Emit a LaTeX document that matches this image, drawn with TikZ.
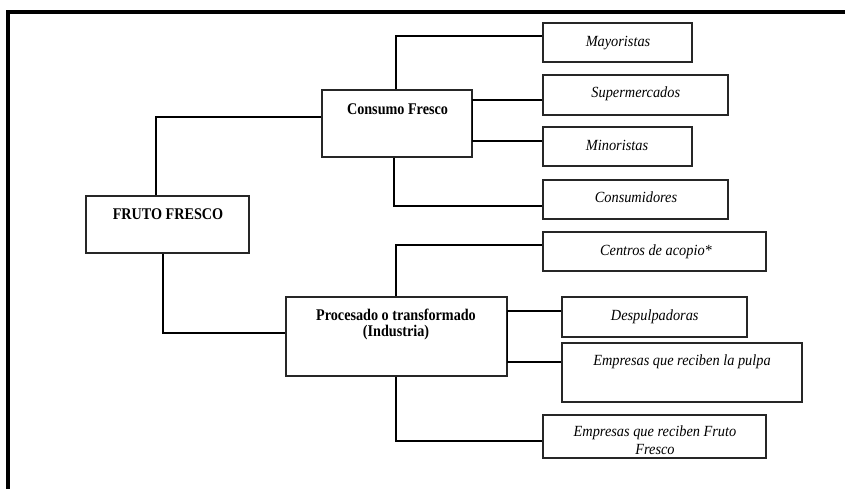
\documentclass[tikz,border=0pt]{standalone}
\usepackage{fontspec}
\setmainfont{Liberation Serif}[FakeStretch=0.925]
\newfontfamily\boldfam{Liberation Serif}[FakeStretch=0.87]
\begin{document}
\begin{tikzpicture}[x=1pt,y=-1pt,
  box/.style={draw=black!85, line width=1.2pt, inner sep=0pt, fill=white},
  conn/.style={draw=black, line width=1.6pt},
  bt/.style={font=\boldfam\fontsize{16.3}{16.7}\selectfont\bfseries, anchor=base, align=center, inner sep=0pt},
  it/.style={font=\fontsize{15.5}{17.6}\selectfont\itshape, anchor=base, align=center, inner sep=0pt}]
\useasboundingbox (0,0) rectangle (845,488);
% frame
\draw[line width=3.2pt] (8,490) -- (8,12) -- (847,12);
% boxes
\node[box, minimum width=163pt, minimum height=57pt] (fruto) at (167.5,224.5) {};
\node[box, minimum width=150pt, minimum height=67pt] (cf) at (397,123.5) {};
\node[box, minimum width=221pt, minimum height=79pt] (proc) at (396.5,336.5) {};
\node[box, minimum width=149pt, minimum height=39pt] (may) at (617.5,42.5) {};
\node[box, minimum width=185pt, minimum height=40pt] (sup) at (635.5,95) {};
\node[box, minimum width=149pt, minimum height=39pt] (min) at (617.5,146.5) {};
\node[box, minimum width=185pt, minimum height=39pt] (con) at (635.5,199.5) {};
\node[box, minimum width=223pt, minimum height=39pt] (cen) at (654.5,251.5) {};
\node[box, minimum width=185pt, minimum height=40pt] (des) at (654.5,317) {};
\node[box, minimum width=240pt, minimum height=59pt] (pul) at (682,372.5) {};
\node[box, minimum width=223pt, minimum height=43pt] (eff) at (654.5,436.5) {};
% connectors
\draw[conn] ([xshift=-11.5pt]fruto.north) |- ([yshift=6.5pt]cf.west);
\draw[conn] ([xshift=-4.5pt]fruto.south) |- ([yshift=3.5pt]proc.west);
\draw[conn] ([xshift=-1pt]cf.north) |- ([yshift=6.5pt]may.west);
\draw[conn] ([yshift=23.5pt]cf.east -| sup.west) -- ([yshift=23.5pt]cf.east) -- ([yshift=-17.5pt]cf.east) -- ([yshift=-17.5pt]cf.east -| min.west);
\draw[conn] ([xshift=-3pt]cf.south) |- ([yshift=-6.5pt]con.west);
\draw[conn] ([xshift=-0.5pt]proc.north) |- ([yshift=6.5pt]cen.west);
\draw[conn] ([yshift=25.5pt]proc.east -| des.west) -- ([yshift=25.5pt]proc.east) -- ([yshift=-25.5pt]proc.east) -- ([yshift=-25.5pt]proc.east -| pul.west);
\draw[conn] ([xshift=-0.5pt]proc.south) |- ([yshift=-4.5pt]eff.west);
% texts
\node[bt] (fruto-t) at (168,219) {FRUTO FRESCO};
\node[bt] (cf-t) at (397.5,114.3) {Consumo Fresco};
\node[bt] (proc-t) at (396,336.7) {Procesado o transformado\\(Industria)};
\node[it] (may-t) at (618,46) {Mayoristas};
\node[it] (sup-t) at (635.8,97.7) {Supermercados};
\node[it] (min-t) at (617,150) {Minoristas};
\node[it] (con-t) at (636,202.7) {Consumidores};
\node[it] (cen-t) at (656,255) {Centros de acopio*};
\node[it] (des-t) at (654.7,320) {Despulpadoras};
\node[it] (pul-t) at (682,365.7) {Empresas que reciben la pulpa};
\node[it] (eff-t) at (655,454.3) {Empresas que reciben Fruto\\Fresco};
\end{tikzpicture}
\end{document}
